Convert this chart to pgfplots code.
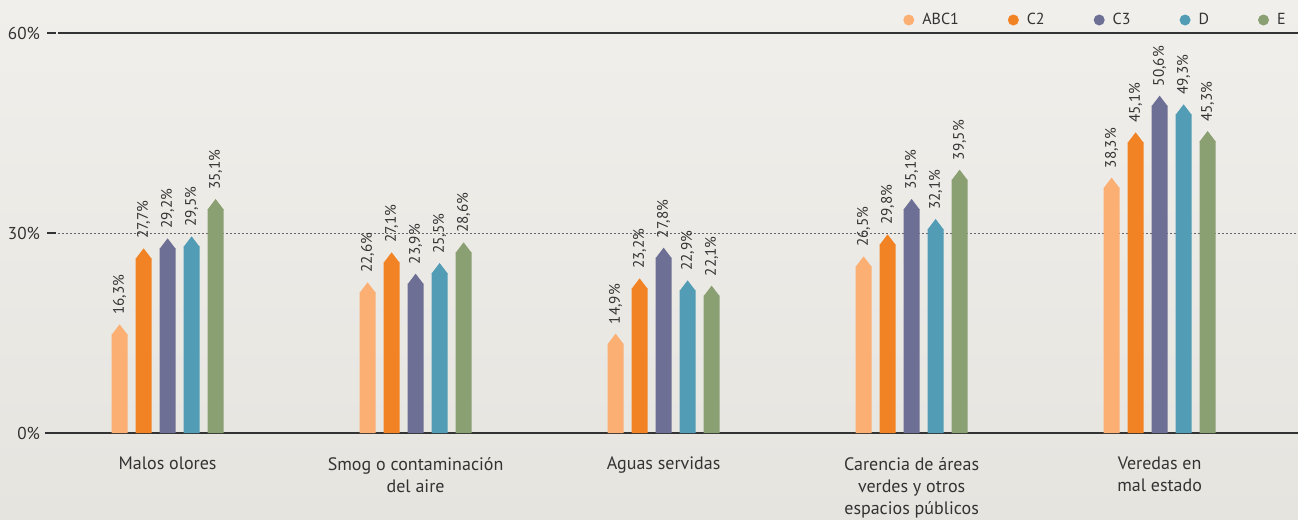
\documentclass[border=0pt]{standalone}
\usepackage{fontspec}
\setmainfont{PT Sans}
\usepackage{pgfplots}
\pgfplotsset{compat=1.18}
\usepackage{pgfplotstable}
\usetikzlibrary{backgrounds}

\definecolor{cABC}{HTML}{FBAF72}
\definecolor{cCtwo}{HTML}{F28325}
\definecolor{cCthree}{HTML}{6E6F95}
\definecolor{cD}{HTML}{529CB6}
\definecolor{cE}{HTML}{8AA073}
\definecolor{ink}{HTML}{333333}
\definecolor{bgTop}{HTML}{F1EFEB}
\definecolor{bgBot}{HTML}{E6E4DF}

% pointed cap that sits on top of each bar (apex = value)
\pgfdeclareplotmark{cap}{%
  \pgfpathmoveto{\pgfpoint{0pt}{0pt}}%
  \pgfpathlineto{\pgfpoint{-4pt}{-5.25pt}}%
  \pgfpathlineto{\pgfpoint{4pt}{-5.25pt}}%
  \pgfpathclose
  \pgfusepathqfill
}

\pgfplotstableread{
x abc c2 c3 d e
0 16.3 27.7 29.2 29.5 35.1
1 22.6 27.1 23.9 25.5 28.6
2 14.9 23.2 27.8 22.9 22.1
3 26.5 29.8 35.1 32.1 39.5
4 38.3 45.1 50.6 49.3 45.3
}\datatable

% #1 column, #2 colour, #3 bar shift, #4 same shift in axis units
\newcommand\pentabar[4]{%
  \addplot[ybar, bar width=8pt, bar shift=#3, fill=#2, draw=none, forget plot]
    table[x=x, y expr=\thisrow{#1}-1.5]{\datatable};
  \addplot[only marks, mark=cap, fill=#2, draw=none, mark options={fill=#2, draw=none},
    point meta=\thisrow{#1},
    nodes near coords={\pgfmathprintnumber[fixed, fixed zerofill, precision=1, use comma, assume math mode=true]{\pgfplotspointmeta}\%},
    nodes near coords style={rotate=90, anchor=west, font=\fontsize{7.6}{9}\selectfont, text=ink, inner xsep=4.5pt, inner ysep=0pt}]
    table[x expr=\thisrow{x}+#4, y=#1]{\datatable};
}

\begin{document}
\begin{tikzpicture}
\begin{axis}[
  scale only axis, width=620pt, height=200pt,
  xmin=-0.442, xmax=4.558, ymin=0, ymax=60,
  clip=false,
  axis line style={draw=none},
  ytick={0,60}, ytick pos=left, tick align=outside,
  major tick length=6.5pt,
  ytick style={draw=ink, line width=0.65pt, shorten <=1pt, shorten >=1pt},
  ymajorgrids, major grid style={draw=ink, line width=0.65pt},
  extra y ticks={30},
  extra y tick style={ytick style={draw=ink, line width=0.65pt, shorten <=1pt, shorten >=1pt},
     major grid style={draw=black!60, line width=0.5pt, dash pattern=on 1pt off 1pt}},
  /pgf/number format/assume math mode=true,
  yticklabel={\pgfmathprintnumber{\tick}\%},
  yticklabel style={font=\fontsize{8.6}{10}\selectfont, text=ink, xshift=1pt},
  xtick={0,1,2,3,4}, xtick style={draw=none},
  xticklabels={Malos olores, {Smog o contaminación\\del aire}, Aguas servidas,
    {Carencia de áreas\\verdes y otros\\espacios públicos}, {Veredas en\\mal estado}},
  xticklabel style={align=center, font=\fontsize{9}{11}\selectfont, text=ink, yshift=-2pt},
  legend columns=5,
  legend image code/.code={\path[fill, draw=none] (0pt,0pt) circle (2.75pt);},
  legend style={draw=none, fill=none, at={(rel axis cs:1,1)}, anchor=east,
    xshift=-1pt, yshift=6.5pt, font=\fontsize{8}{9}\selectfont, text=ink,
    /tikz/every odd column/.append style={column sep=2pt},
    /tikz/every even column/.append style={column sep=22.5pt}},
]
\pentabar{abc}{cABC}{-24pt}{-0.193548}
\pentabar{c2}{cCtwo}{-12pt}{-0.096774}
\pentabar{c3}{cCthree}{0pt}{0}
\pentabar{d}{cD}{12pt}{0.096774}
\pentabar{e}{cE}{24pt}{0.193548}
\legend{ABC1, C2, C3, D, E}
\end{axis}
\pgfresetboundingbox
\begin{scope}[on background layer]
\shade[top color=bgTop, bottom color=bgBot]
  ([xshift=-29pt,yshift=-43pt]current axis.south west) rectangle ([yshift=16.5pt]current axis.north east);
\end{scope}
\useasboundingbox ([xshift=-29pt,yshift=-43pt]current axis.south west) rectangle ([yshift=16.5pt]current axis.north east);
\end{tikzpicture}
\end{document}
